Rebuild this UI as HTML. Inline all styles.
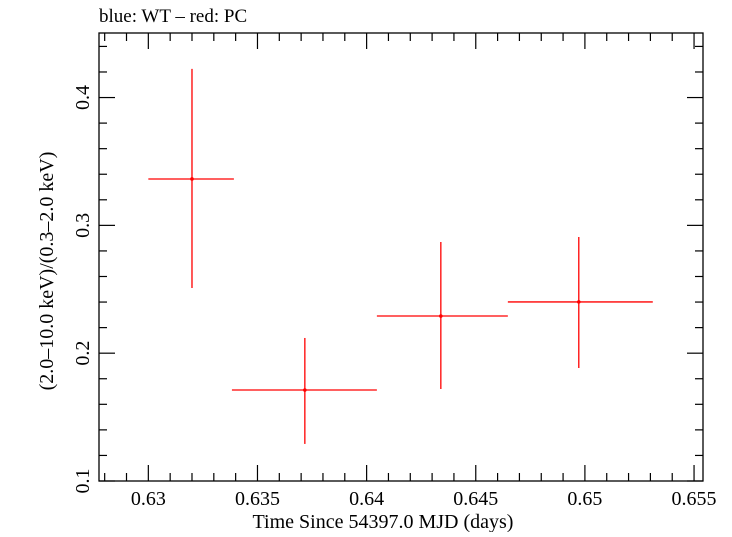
<!DOCTYPE html>
<html><head><meta charset="utf-8"><style>
body{margin:0;background:#fff}
svg text{font-family:"Liberation Serif",serif;fill:#000}
</style></head><body>
<svg id="c" width="732" height="532">
<text x="99" y="22" font-size="19">blue: WT – red: PC</text>
<rect x="99" y="33" width="604" height="448" fill="none" stroke="#000" stroke-width="1.3"/>
<g id="ax"></g><g id="pts"></g>
<text x="383" y="528" font-size="20" text-anchor="middle">Time Since 54397.0 MJD (days)</text>
<text transform="translate(53,271) rotate(-90)" font-size="20" text-anchor="middle">(2.0–10.0 keV)/(0.3–2.0 keV)</text>
</svg>
<script>
const xVals=[0.632,0.63717,0.6434,0.64972];
const xErrLo=[0.63,0.63383,0.64047,0.64647];
const xErrHi=[0.63392,0.64047,0.64647,0.65311];
const yVals=[0.3363,0.1712,0.2291,0.2401];
const yErrLo=[0.251,0.129,0.172,0.1884];
const yErrHi=[0.4224,0.2119,0.287,0.2909];
const xTicks=["0.63","0.635","0.64","0.645","0.65","0.655"];
const yTicks=["0.1","0.2","0.3","0.4"];
const L=99,R=703,T=33,B=481,x0=0.62774,x1=0.65541,y0=0.1,y1=0.4505;
const X=v=>L+(v-x0)/(x1-x0)*(R-L), Y=v=>B-(v-y0)/(y1-y0)*(B-T);
const NS="http://www.w3.org/2000/svg";
function mk(p,t,a){const e=document.createElementNS(NS,t);for(const k in a)e.setAttribute(k,a[k]);p.appendChild(e);return e;}
const ax=document.getElementById('ax'),pts=document.getElementById('pts');
for(let i=0;i<=27;i++){const v=0.628+i*0.001;if(v>x1)break;const px=X(v);const maj=Math.abs(Math.round(v*200)-v*200)<1e-6;const h=maj?16:8;
const a=mk(ax,'line',{x1:px,x2:px,y1:B,y2:B-h,stroke:'#000','stroke-width':1.2});


const b=mk(ax,'line',{x1:px,x2:px,y1:T,y2:T+h,stroke:'#000','stroke-width':1.2});

}
xTicks.forEach(s=>{const t=mk(ax,'text',{x:X(+s),y:505,'font-size':20,'text-anchor':'middle'});t.textContent=s;

});
for(let i=0;i<=18;i++){const v=0.1+i*0.02;if(v>y1)break;const py=Y(v);const maj=i%5==0;const h=maj?16:8;
const a=mk(ax,'line',{x1:L,x2:L+h,y1:py,y2:py,stroke:'#000','stroke-width':1.2});


const b=mk(ax,'line',{x1:R,x2:R-h,y1:py,y2:py,stroke:'#000','stroke-width':1.2});

}
yTicks.forEach(s=>{const py=Y(+s);const t=mk(ax,'text',{transform:`translate(89,${py}) rotate(-90)`,'font-size':20,'text-anchor':'middle'});t.textContent=s;

});
xVals.forEach((v,i)=>{const g=mk(pts,'g',{stroke:'#f00','stroke-width':1.3});


mk(g,'line',{x1:X(xErrLo[i]),x2:X(xErrHi[i]),y1:Y(yVals[i]),y2:Y(yVals[i])});
mk(g,'line',{x1:X(v),x2:X(v),y1:Y(yErrLo[i]),y2:Y(yErrHi[i])});
mk(g,'circle',{cx:X(v),cy:Y(yVals[i]),r:1.8,fill:'#f00',stroke:'none'});});
</script>
</body></html>
